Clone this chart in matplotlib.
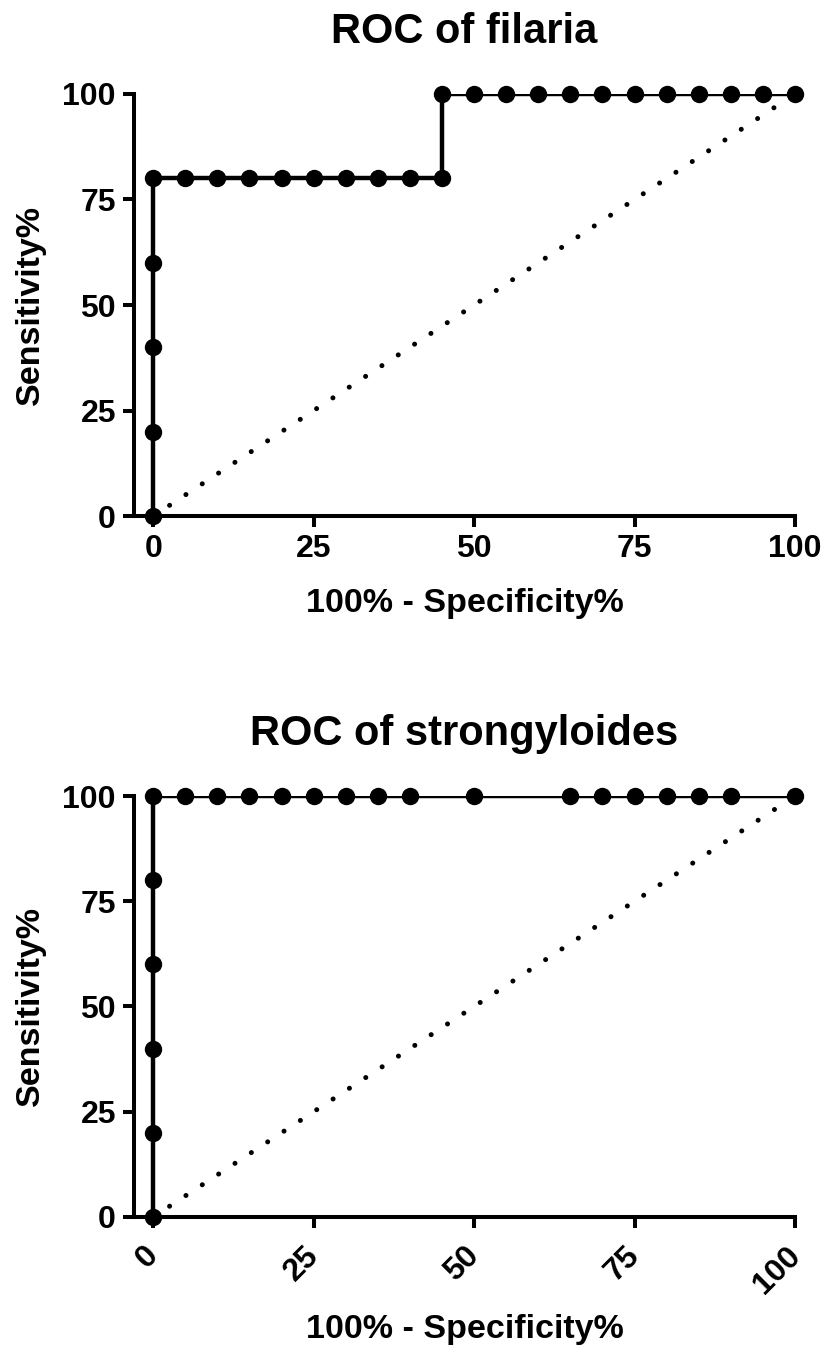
import numpy as np
import matplotlib
matplotlib.use("Agg")
import matplotlib.pyplot as plt
from matplotlib.transforms import ScaledTranslation

#---------------------- DATA ------------------------#

fil_x = [0, 0, 0, 0, 0, 5, 10, 15, 20, 25, 30, 35, 40, 45, 45, 50, 55, 60, 65, 70, 75, 80, 85, 90, 95, 100]
fil_y = [0, 20, 40, 60, 80, 80, 80, 80, 80, 80, 80, 80, 80, 80, 100, 100, 100, 100, 100, 100, 100, 100, 100, 100, 100, 100]

str_x = [0, 0, 0, 0, 0, 0, 5, 10, 15, 20, 25, 30, 35, 40, 50, 65, 70, 75, 80, 85, 90, 100]
str_y = [0, 20, 40, 60, 80, 100, 100, 100, 100, 100, 100, 100, 100, 100, 100, 100, 100, 100, 100, 100, 100, 100]

ref_x = [0, 100]
ref_y = [0, 100]

titles = ["ROC of filaria", "ROC of strongyloides"]
ticks = [0, 25, 50, 75, 100]

#---------------------- STYLE ------------------------#

plt.rcParams['font.family'] = ['Liberation Sans', 'DejaVu Sans']
plt.rcParams['font.weight'] = 'bold'

fig = plt.figure(figsize=(8.25, 13.52), dpi=100)
ax1 = fig.add_axes([0.1624, 0.6183, 0.8012, 0.3122])
ax2 = fig.add_axes([0.1624, 0.0999, 0.8012, 0.3113])

def draw(ax, xs, ys, title, rotate, xlab_y):
    # chance line
    ax.plot(ref_x, ref_y, color="black", lw=3.6, linestyle=(0, (0.01, 3.9)),
            dash_capstyle='round', zorder=2)
    # ROC curve, markers drawn unclipped on top
    ax.plot(xs, ys, color="black", lw=3.2, zorder=3)
    ax.plot(xs, ys, color="black", lw=0, marker='o', ms=11.5,
            clip_on=False, zorder=5)
    ax.set_xlim(-3.0, 100)
    ax.set_ylim(0, 100)
    ax.set_xticks(ticks)
    ax.set_yticks(ticks)
    for s in ['top', 'right']:
        ax.spines[s].set_visible(False)
    for s in ['left', 'bottom']:
        ax.spines[s].set_linewidth(2.9)
    ax.tick_params(width=2.9, length=8, labelsize=23, pad=5)
    if rotate:
        ax.tick_params(axis='x', pad=9)
        shift = ScaledTranslation(-7 / 72, 0, fig.dpi_scale_trans)
        for lab in ax.get_xticklabels():
            lab.set_rotation(45)
            lab.set_ha('right')
            lab.set_rotation_mode('anchor')
            lab.set_transform(lab.get_transform() + shift)
    ax.set_title(title, fontsize=30, fontweight='bold', pad=37)
    ax.set_xlabel("100% - Specificity%", fontsize=24.5, fontweight='bold')
    ax.set_ylabel("Sensitivity%", fontsize=24.5, fontweight='bold')
    ax.xaxis.set_label_coords(0.5, xlab_y)
    ax.xaxis.label.set_va('center')
    ax.yaxis.set_label_coords(-0.157, 0.5)
    ax.yaxis.label.set_va('center')

draw(ax1, fil_x, fil_y, titles[0], False, -0.206)
draw(ax2, str_x, str_y, titles[1], True, -0.268)

fig.savefig("out.png", dpi=100)
